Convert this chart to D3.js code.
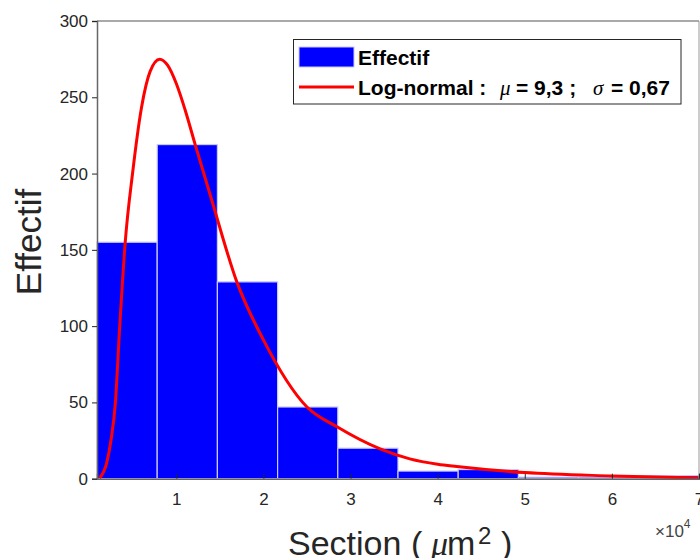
<!DOCTYPE html>
<html><head><meta charset="utf-8">
<script src="https://cdn.jsdelivr.net/npm/d3@7"></script>
<style>body{margin:0;background:#fff}</style></head><body>
<svg id="c" width="700" height="558"></svg>
<script>
// ---- data (x in units of 10^4 µm²) ----
const binEdges = [0.09, 0.781, 1.472, 2.163, 2.854, 3.545, 4.236, 4.927, 5.618, 6.309, 7.0];
const counts   = [155, 219, 129, 47, 20, 5, 6, 1, 1, 2];
const curveX = [0.12, 0.2, 0.25, 0.3, 0.35, 0.414, 0.5, 0.6, 0.7, 0.81, 0.9, 1.0, 1.1, 1.217, 1.4, 1.695, 2.0, 2.5, 2.845, 3.34, 3.68, 4.0, 4.22, 5.0, 6.0, 7.0];
const curveY = [0.5, 10, 25, 49, 99, 155, 201, 243, 267, 275, 271, 259, 242, 219, 184, 129, 91, 47, 34, 19.5, 13, 9.5, 8, 4, 1.8, 0.4];
const xTicks = [1, 2, 3, 4, 5, 6, 7];
const yTicks = [0, 50, 100, 150, 200, 250, 300];
const seriesNames = ["Effectif", "Log-normal"];

const svg = d3.select("#c");
const L = 97, R = 699, T = 21, B = 478.7;
const x = d3.scaleLinear().domain([0.09, 7]).range([L, R]);
const y = d3.scaleLinear().domain([0, 300]).range([B, T]);
const ink = "#262626";
const sans = "Liberation Sans, Arial, sans-serif";
const serif = "Liberation Serif, serif";

// bars
const bins = counts.map((c, i) => ({x0: binEdges[i], x1: binEdges[i + 1], c}));
svg.append("g").selectAll("rect").data(bins).join("rect")
  .attr("x", d => x(d.x0)).attr("width", d => x(d.x1) - x(d.x0))
  .attr("y", d => y(d.c)).attr("height", d => y(0) - y(d.c))
  .attr("fill", "#0000ff").attr("stroke", "#c8c8ff").attr("stroke-width", 1.2);

// curve
const pts = curveX.map((v, i) => [v, curveY[i]]);
svg.append("path").datum(pts)
  .attr("d", d3.line().x(d => x(d[0])).y(d => y(d[1])).curve(d3.curveMonotoneX))
  .attr("fill", "none").attr("stroke", "#ff0000").attr("stroke-width", 3);

// box
svg.append("line").attr("x1", L).attr("x2", R).attr("y1", T).attr("y2", T).attr("stroke", "#555").attr("stroke-width", 1.2);
svg.append("line").attr("x1", R).attr("x2", R).attr("y1", T).attr("y2", B).attr("stroke", "#999").attr("stroke-width", 1);

// axes
const xa = svg.append("g").attr("transform", `translate(0,${B})`)
  .call(d3.axisBottom(x).tickValues(xTicks).tickSize(-5).tickPadding(14).tickFormat(d3.format("d")));
const ya = svg.append("g").attr("transform", `translate(${L},0)`)
  .call(d3.axisLeft(y).tickValues(yTicks).tickSize(5).tickPadding(4));
[xa, ya].forEach(a => {
  a.select(".domain").attr("stroke", "#666").attr("stroke-width", 1.5);
  a.selectAll(".tick line").attr("stroke", ink);
  a.selectAll("text").attr("fill", ink).style("font-family", sans).style("font-size", "17px");
});

// exponent label
const ex = svg.append("text").attr("x", 655).attr("y", 537).attr("fill", "#444")
  .style("font-family", sans).style("font-size", "17px");
ex.append("tspan").text("×10");
ex.append("tspan").attr("dy", -9).style("font-size", "12px").text("4");

// axis titles
const xt = svg.append("text").attr("y", 555).attr("fill", ink)
  .style("font-family", sans).style("font-size", "34px");
xt.append("tspan").attr("x", 288).text("Section");
xt.append("tspan").attr("x", 411).text("(");
xt.append("tspan").attr("x", 431).style("font-family", serif).style("font-style", "italic").text("μ");
xt.append("tspan").attr("x", 447).text("m");
xt.append("tspan").attr("x", 478).attr("dy", -11).style("font-size", "24px").text("2");
xt.append("tspan").attr("x", 501).attr("dy", 11).text(")");

svg.append("text").attr("transform", "translate(41,242) rotate(-90)").attr("text-anchor", "middle").attr("fill", ink)
  .style("font-family", sans).style("font-size", "35px").text("Effectif");

// legend
const lg = svg.append("g");
lg.append("rect").attr("x", 293.5).attr("y", 39.5).attr("width", 387.5).attr("height", 64.5)
  .attr("fill", "#fff").attr("stroke", ink).attr("stroke-width", 1);
lg.append("rect").attr("x", 299).attr("y", 47).attr("width", 55).attr("height", 20)
  .attr("fill", "#0000ff").attr("stroke", "#c8c8ff").attr("stroke-width", 1);
lg.append("line").attr("x1", 299).attr("x2", 354).attr("y1", 87).attr("y2", 87)
  .attr("stroke", "#ff0000").attr("stroke-width", 3);
lg.append("text").attr("x", 358).attr("y", 65).attr("fill", "#000")
  .style("font-family", sans).style("font-size", "21px").style("font-weight", "bold").text(seriesNames[0]);
const t2 = lg.append("text").attr("y", 95).attr("fill", "#000")
  .style("font-family", sans).style("font-size", "21px").style("font-weight", "bold");
t2.append("tspan").attr("x", 358).text(seriesNames[1] + " :");
t2.append("tspan").attr("x", 500).style("font-family", serif).style("font-style", "italic").style("font-weight", "normal").text("μ");
t2.append("tspan").attr("x", 516).text("= 9,3 ;");
t2.append("tspan").attr("x", 593).style("font-family", serif).style("font-style", "italic").style("font-weight", "normal").text("σ");
t2.append("tspan").attr("x", 611).text("= 0,67");
</script>
</body></html>
